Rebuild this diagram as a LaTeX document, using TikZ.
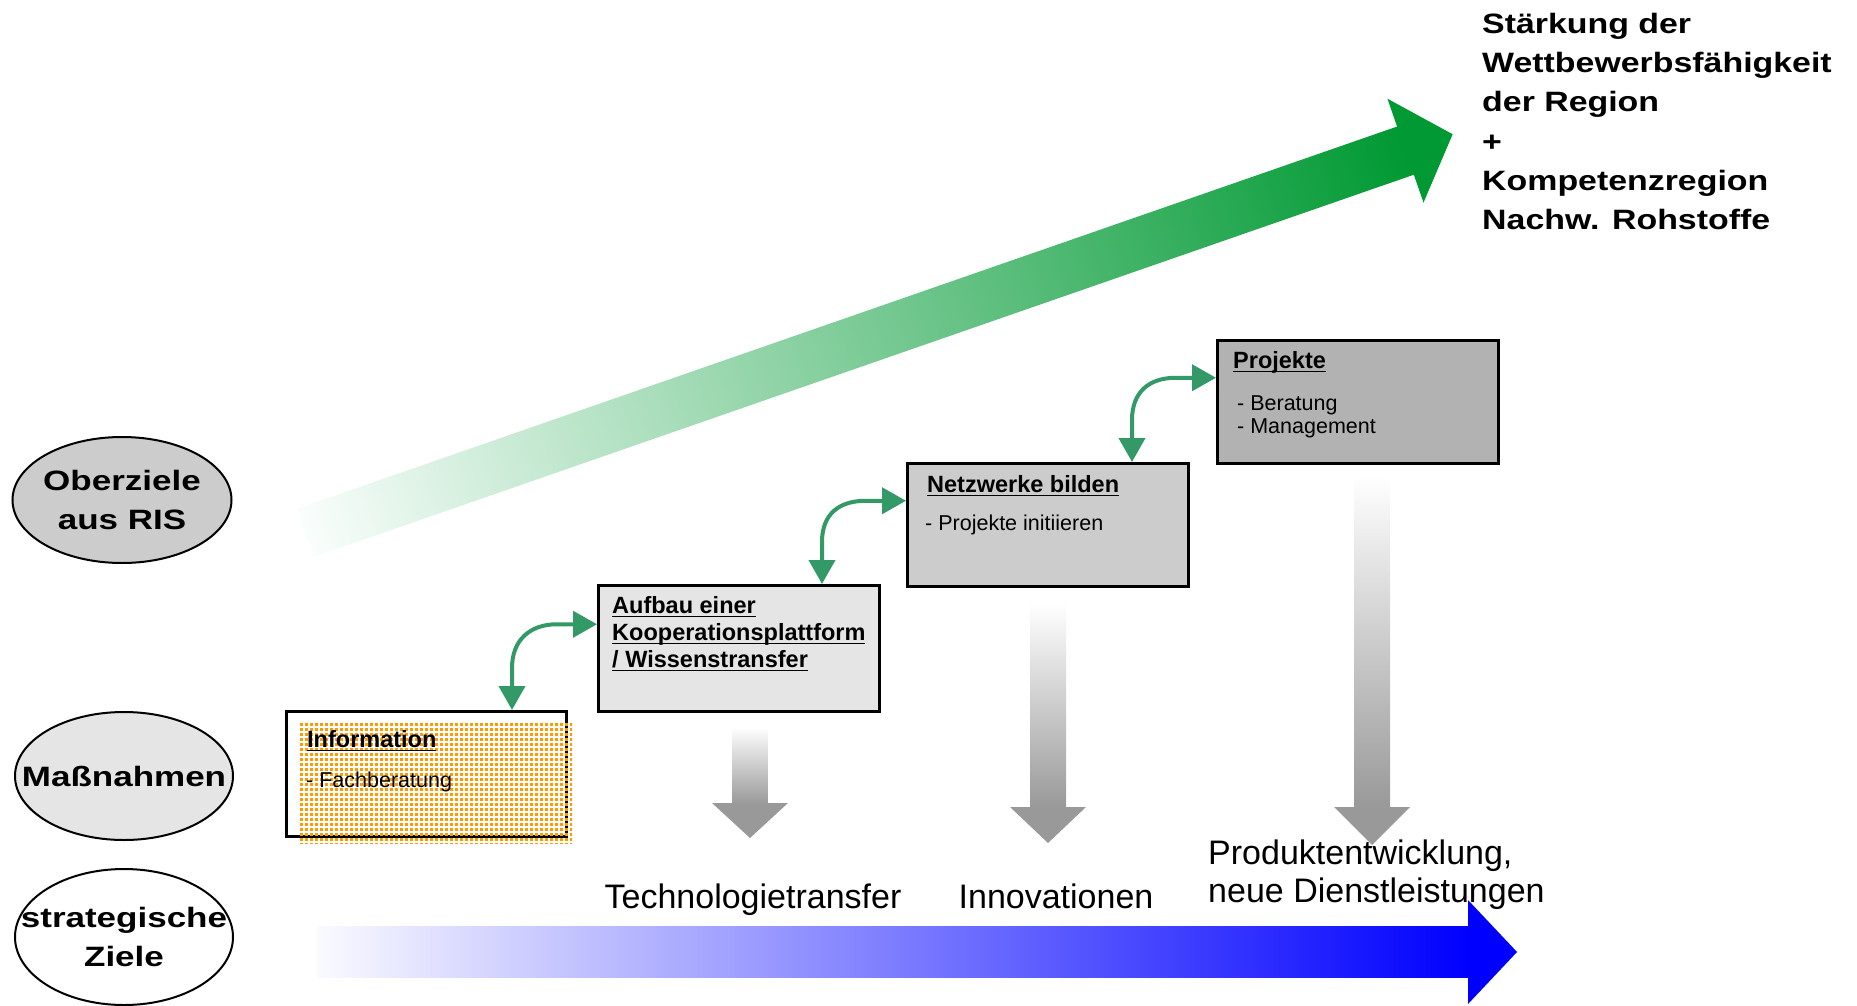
\documentclass[tikz,border=0pt]{standalone}
\usepackage{fontspec}
\setmainfont{Liberation Sans}
\newfontfamily\widefont[FakeStretch=1.25]{Liberation Sans}
\newfontfamily\topfont[FakeStretch=1.21]{Liberation Sans}
\usetikzlibrary{arrows.meta,shapes.geometric,patterns,calc}
\definecolor{linkgreen}{RGB}{51,153,102}
\definecolor{gEnd}{RGB}{0,153,51}
\definecolor{gStart}{RGB}{250,254,252}
\definecolor{bStart}{RGB}{250,250,255}
\definecolor{orangeDot}{RGB}{255,153,0}
\definecolor{fillA}{gray}{0.898}
\definecolor{fillB}{gray}{0.8}
\definecolor{fillC}{gray}{0.698}
\definecolor{arrGray}{gray}{0.6}
\pgfdeclarepatternformonly{orangemesh}{\pgfpointorigin}{\pgfpoint{5pt}{5pt}}{\pgfpoint{5pt}{5pt}}{\pgfpathrectangle{\pgfpointorigin}{\pgfpoint{3.5pt}{3.5pt}}\pgfusepath{fill}}
\newsavebox\ulbox
\newcommand\myul[1]{\sbox\ulbox{#1}\rlap{\rule[-4pt]{\wd\ulbox}{1.5pt}}\usebox\ulbox}
\tikzset{
  oval/.style={ellipse, draw=black, line width=2pt, inner sep=0pt, align=center,
    font=\widefont\bfseries\fontsize{28}{39}\selectfont},
  stepbox/.style={draw=black, line width=2.5pt, anchor=north west, inner sep=0pt},
  headtext/.style={anchor=base west, inner sep=0pt, font=\bfseries\fontsize{23.5}{27}\selectfont},
  itemtext/.style={anchor=base west, inner sep=0pt, font=\fontsize{21.5}{23}\selectfont},
  goaltext/.style={inner sep=0pt, font=\fontsize{34}{38}\selectfont},
  toptext/.style={anchor=base west, inner sep=0pt, font=\topfont\bfseries\fontsize{28}{39}\selectfont},
  glink/.style={draw=linkgreen, line width=4pt, <->, >={Triangle[width=26pt,length=24pt]}},
}
\begin{document}
\begin{tikzpicture}[x=1pt,y=-1pt]
\useasboundingbox (0,0) rectangle (1857,1006);

% big green arrow
\begin{scope}[transform canvas={shift={(305,533)}, rotate=19.16}]
  \shade[left color=gStart, right color=gEnd] (0,-25.5) rectangle (1166,25.5);
  \fill[gEnd] (1165,-55) -- (1215,0) -- (1165,55) -- cycle;
\end{scope}

% top right text
\node[toptext] (t1) at (1482,34) {Stärkung der};
\node[toptext] (t2) at (1482,73) {Wettbewerbsfähigkeit};
\node[toptext] (t3) at (1482,112) {der Region};
\node[toptext] (t4) at (1482,151) {+};
\node[toptext] (t5) at (1482,190) {Kompetenzregion};
\node[toptext] (t6) at (1482,229) {Nachw. Rohstoffe};

% left ellipses
\node[oval, fill=fillB, minimum width=219, minimum height=126] (oberziele) at (122,500)
  {\makebox[0pt]{Oberziele}\\\makebox[0pt]{aus RIS}};
\node[oval, fill=fillA, minimum width=218, minimum height=128] (massnahmen) at (124,776)
  {\makebox[0pt]{Maßnahmen}};
\node[oval, fill=white, minimum width=218, minimum height=136] (strat) at (124,937)
  {\makebox[0pt]{strategische}\\\makebox[0pt]{Ziele}};

% gray arrows
\shade[top color=white, bottom color=arrGray] (732.5,727) rectangle (767.5,804);
\fill[arrGray] (712,803) -- (788,803) -- (750,838) -- cycle;
\shade[top color=white, bottom color=arrGray] (1030,603) rectangle (1066,808);
\fill[arrGray] (1010,807) -- (1086,807) -- (1048,843) -- cycle;
\shade[top color=white, bottom color=arrGray] (1354,475) rectangle (1390,808);
\fill[arrGray] (1334,807) -- (1410,807) -- (1372,845) -- cycle;

% blue arrow
\shade[left color=bStart, right color=blue] (317,926.5) rectangle (1469,977.5);
\fill[blue] (1468,900) -- (1517,952) -- (1468,1004) -- cycle;

% boxes
\node[stepbox, fill=white, minimum width=280, minimum height=125] (info) at (285,710) {};
\fill[pattern=orangemesh, pattern color=orangeDot] (298,723) rectangle (572,843);
\node[stepbox, fill=fillA, minimum width=281, minimum height=126] (aufbau) at (597,584) {};
\node[stepbox, fill=fillB, minimum width=281, minimum height=123] (netz) at (906,462) {};
\node[stepbox, fill=fillC, minimum width=281, minimum height=123] (proj) at (1216,339) {};

% box texts
\node[headtext] (infoH) at ($(info.north west)+(22,37)$) {\myul{Information}};
\node[itemtext] (infoI) at ($(info.north west)+(21,77)$) {- Fachberatung};
\node[headtext] (aufH1) at ($(aufbau.north west)+(15,29)$) {\myul{Aufbau einer}};
\node[headtext] (aufH2) at ($(aufbau.north west)+(15,56)$) {\myul{Kooperationsplattform}};
\node[headtext] (aufH3) at ($(aufbau.north west)+(15,83)$) {\myul{/ Wissenstransfer}};
\node[headtext] (netH) at ($(netz.north west)+(21,30)$) {\myul{Netzwerke bilden}};
\node[itemtext] (netI) at ($(netz.north west)+(19,68)$) {- Projekte initiieren};
\node[headtext] (proH) at ($(proj.north west)+(17,29)$) {\myul{Projekte}};
\node[itemtext] (proI1) at ($(proj.north west)+(21,71)$) {- Beratung};
\node[itemtext] (proI2) at ($(proj.north west)+(21,94)$) {- Management};

% green links
\coordinate (ta) at ($(info.north west)+(227,0)$);
\coordinate (la) at ($(aufbau.west)+(0,-24)$);
\draw[glink] (ta) -- ($(ta)+(0,-42)$) .. controls ($(ta)+(0,-70)$) and ($(la)+(-67,0)$) .. ($(la)+(-40,0)$) -- (la);
\coordinate (tb) at ($(aufbau.north west)+(225,0)$);
\coordinate (lb) at ($(netz.west)+(0,-24)$);
\draw[glink] (tb) -- ($(tb)+(0,-42)$) .. controls ($(tb)+(0,-70)$) and ($(lb)+(-67,0)$) .. ($(lb)+(-40,0)$) -- (lb);
\coordinate (tc) at ($(netz.north west)+(226,0)$);
\coordinate (lc) at ($(proj.west)+(0,-24)$);
\draw[glink] (tc) -- ($(tc)+(0,-42)$) .. controls ($(tc)+(0,-70)$) and ($(lc)+(-67,0)$) .. ($(lc)+(-40,0)$) -- (lc);

% goal labels
\node[goaltext, anchor=base] (tech) at (753,908) {Technologietransfer};
\node[goaltext, anchor=base] (innov) at (1056,908) {Innovationen};
\node[goaltext, anchor=base west] (prod1) at (1208,864) {Produktentwicklung,};
\node[goaltext, anchor=base west] (prod2) at (1208,902) {neue Dienstleistungen};
\end{tikzpicture}
\end{document}
